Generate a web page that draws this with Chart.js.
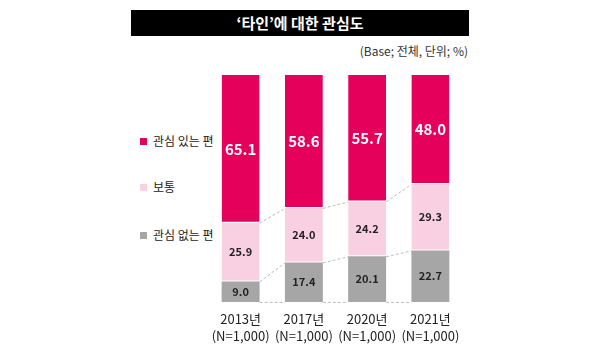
<!DOCTYPE html>
<html><head><meta charset="utf-8">
<script src="https://cdn.jsdelivr.net/npm/chart.js@4"></script>
<style>
html,body{margin:0;padding:0;background:#fff;}
#wrap{position:relative;width:600px;height:356px;overflow:hidden;font-family:"Noto Sans CJK KR","Noto Sans",sans-serif;}
#title{position:absolute;left:131px;top:10px;width:338px;height:26px;background:#000;color:#fff;font-weight:bold;font-size:15px;line-height:26px;text-align:center;}
#sub{position:absolute;right:132px;top:42px;font-size:12px;color:#333;line-height:18px;}
.lg{position:absolute;left:140px;font-size:12px;color:#222;line-height:16px;}
.lg i{display:inline-block;width:7px;height:7px;margin-right:6px;vertical-align:1px;}
canvas{position:absolute;left:0;top:0;}
</style></head>
<body><div id="wrap">
<div id="title">‘타인’에 대한 관심도</div>
<div id="sub">(Base; 전체, 단위; %)</div>
<div id="legend"></div>
<canvas id="c" width="600" height="356"></canvas>
</div>
<script>
const years = ["2013년","2017년","2020년","2021년"];
const bases = ["(N=1,000)","(N=1,000)","(N=1,000)","(N=1,000)"];
const notInterested = [9.0,17.4,20.1,22.7];
const neutral = [25.9,24.0,24.2,29.3];
const interested = [65.1,58.6,55.7,48.0];
const seriesNames = ["관심 있는 편","보통","관심 없는 편"];
const colors = {hi:"#E4005B", mid:"#F9D0E1", lo:"#A6A6A6"};

// legend
const legendItems = [[seriesNames[0],colors.hi,133],[seriesNames[1],colors.mid,179],[seriesNames[2],colors.lo,227]];
const lgEl = document.getElementById('legend');
legendItems.forEach(([t,c,y])=>{const d=document.createElement('div');d.className='lg';d.style.top=y+'px';d.innerHTML='<i style="background:'+c+'"></i>'+t;lgEl.appendChild(d);});

const connectors = {
  id:'connectors',
  beforeDatasetsDraw(chart){
    const ctx=chart.ctx, y=chart.scales.y;
    const m0=chart.getDatasetMeta(0);
    ctx.save();ctx.strokeStyle='#BDBDBD';ctx.lineWidth=1;ctx.setLineDash([3,2]);
    for(let i=0;i<years.length-1;i++){
      const b0=m0.data[i], b1=m0.data[i+1];
      const x0=b0.x+b0.width/2, x1=b1.x-b1.width/2;
      const levels=[[0,0],[notInterested[i],notInterested[i+1]],[notInterested[i]+neutral[i],notInterested[i+1]+neutral[i+1]]];
      levels.forEach(([a,b])=>{ctx.beginPath();ctx.moveTo(x0,y.getPixelForValue(a)+0.5);ctx.lineTo(x1,y.getPixelForValue(b)+0.5);ctx.stroke();});
    }
    ctx.restore();
  }
};
const labels = {
  id:'labels',
  afterDatasetsDraw(chart){
    const ctx=chart.ctx;
    ctx.save();ctx.textAlign='center';ctx.textBaseline='middle';
    chart.data.datasets.forEach((ds,di)=>{
      const meta=chart.getDatasetMeta(di);
      meta.data.forEach((bar,i)=>{
        const yc=(bar.y+bar.base)/2;
        if(di===2){ctx.fillStyle='#fff';ctx.font='bold 15px "Noto Sans CJK KR", sans-serif';}
        else{ctx.fillStyle='#222';ctx.font='bold 11px "Noto Sans CJK KR", sans-serif';}
        ctx.fillText(ds.data[i].toFixed(1),bar.x,yc);
      });
    });
    ctx.restore();
  }
};

new Chart(document.getElementById('c'),{
  type:'bar',
  data:{
    labels: years.map((y,i)=>[y,bases[i]]),
    datasets:[
      {label:seriesNames[2],data:notInterested,backgroundColor:colors.lo},
      {label:seriesNames[1],data:neutral,backgroundColor:colors.mid,borderColor:'#fff',borderWidth:{top:0,bottom:1,left:0,right:0},borderSkipped:false},
      {label:seriesNames[0],data:interested,backgroundColor:colors.hi,borderColor:'#fff',borderWidth:{top:0,bottom:1,left:0,right:0},borderSkipped:false}
    ]
  },
  options:{
    responsive:false,animation:false,
    layout:{padding:{left:209,right:138,top:75,bottom:3}},
    plugins:{legend:{display:false},tooltip:{enabled:false}},
    datasets:{bar:{categoryPercentage:1,barPercentage:0.6}},
    scales:{
      x:{stacked:true,grid:{display:false,drawTicks:false},border:{display:false},
         ticks:{padding:8,color:'#222',font:{size:13,family:'"Noto Sans CJK KR", sans-serif',lineHeight:1.35},maxRotation:0,autoSkip:false}},
      y:{stacked:true,display:false,min:0,max:100}
    }
  },
  plugins:[connectors,labels]
});
</script>
</body></html>
